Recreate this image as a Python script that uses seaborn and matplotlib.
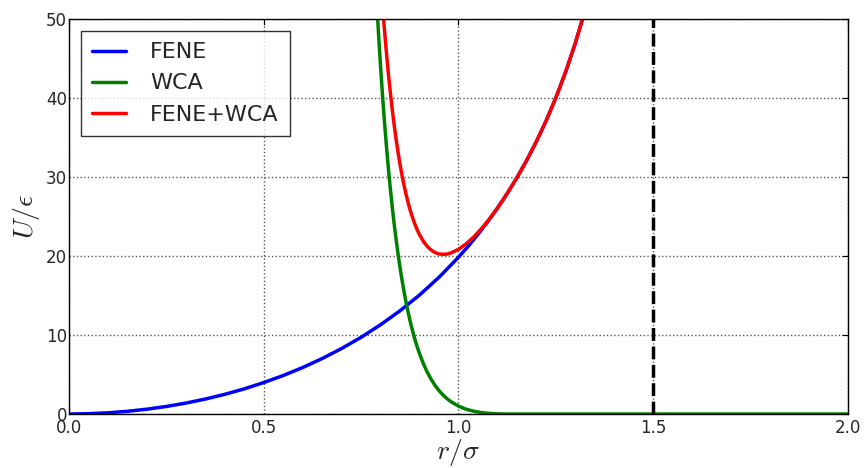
import matplotlib
matplotlib.use("Agg")
import matplotlib.pyplot as plt
import seaborn as sns

# values (r in units of sigma, U in units of epsilon)
r_fene = [0.0, 0.05, 0.1, 0.15, 0.2, 0.25, 0.3, 0.35, 0.4, 0.45, 0.5, 0.55,
          0.6, 0.65, 0.7, 0.75, 0.8, 0.85, 0.9, 0.95, 1.0, 1.025, 1.05,
          1.075, 1.1, 1.125, 1.15, 1.175, 1.2, 1.225, 1.25, 1.275, 1.3,
          1.32, 1.35]
u_fene = [0.0, 0.04, 0.15, 0.34, 0.61, 0.95, 1.38, 1.89, 2.49, 3.18, 3.98,
          4.87, 5.88, 7.02, 8.29, 9.71, 11.30, 13.07, 15.06, 17.30, 19.84,
          21.23, 22.73, 24.33, 26.05, 27.90, 29.91, 32.09, 34.48, 37.11,
          40.02, 43.27, 46.94, 50.25, 56.05]

r_wca = [0.78, 0.79, 0.795, 0.8, 0.805, 0.81, 0.815, 0.82, 0.825, 0.83,
         0.835, 0.84, 0.845, 0.85, 0.855, 0.86, 0.865, 0.87, 0.875, 0.88,
         0.885, 0.89, 0.895, 0.9, 0.91, 0.92, 0.93, 0.94, 0.95, 0.96, 0.97,
         0.98, 1.0, 1.02, 1.04, 1.06, 1.08, 1.1, 1.12, 1.5, 2.0]
u_wca = [62.1, 52.24, 47.91, 43.95, 40.32, 36.98, 33.93, 31.12, 28.55,
         26.19, 24.02, 22.03, 20.20, 18.52, 16.97, 15.55, 14.25, 13.05,
         11.95, 10.93, 10.00, 9.15, 8.36, 7.64, 6.36, 5.28, 4.37, 3.61,
         2.96, 2.42, 1.96, 1.58, 1.0, 0.60, 0.34, 0.17, 0.07, 0.02, 0.0,
         0.0, 0.0]

r_total = [0.78, 0.79, 0.8, 0.805, 0.81, 0.815, 0.82, 0.825, 0.83, 0.835,
           0.84, 0.845, 0.85, 0.855, 0.86, 0.865, 0.87, 0.875, 0.88, 0.885,
           0.89, 0.895, 0.9, 0.91, 0.92, 0.93, 0.94, 0.95, 0.96, 0.97, 0.98,
           1.0, 1.02, 1.04, 1.06, 1.08, 1.1, 1.12, 1.15, 1.175, 1.2, 1.225,
           1.25, 1.275, 1.3, 1.32, 1.35]
u_total = [72.7, 63.2, 55.25, 51.78, 48.62, 45.73, 43.10, 40.71, 38.53,
           36.54, 34.73, 33.08, 31.59, 30.23, 29.00, 27.89, 26.89, 25.98,
           25.17, 24.44, 23.80, 23.21, 22.70, 21.85, 21.21, 20.75, 20.44,
           20.26, 20.21, 20.24, 20.37, 20.84, 21.55, 22.45, 23.52, 24.73,
           26.06, 27.52, 29.91, 32.09, 34.48, 37.11, 40.02, 43.27, 46.94,
           50.25, 56.05]

r_max = 1.5

x_ticks = [0.0, 0.5, 1.0, 1.5, 2.0]
y_ticks = [0, 10, 20, 30, 40, 50]

sns.set_style("white")
plt.rcParams["mathtext.fontset"] = "cm"
plt.rcParams["font.family"] = ["DejaVu Sans"]

fig = plt.figure(figsize=(8.67, 4.68), dpi=100)
ax = fig.add_axes([0.0796, 0.1154, 0.8984, 0.844])

sns.lineplot(x=r_fene, y=u_fene, color="b", lw=2.5, label="FENE", ax=ax)
sns.lineplot(x=r_wca, y=u_wca, color="g", lw=2.5, label="WCA", ax=ax)
sns.lineplot(x=r_total, y=u_total, color="r", lw=2.5, label="FENE+WCA", ax=ax)
ax.axvline(r_max, color="k", ls="--", lw=2.5)

ax.set_xlim(0, 2)
ax.set_ylim(0, 50)
ax.set_xticks(x_ticks)
ax.set_yticks(y_ticks)
ax.set_xticklabels(["%.1f" % t for t in x_ticks])
ax.tick_params(direction="in", length=4, labelsize=12, color="k",
               top=True, right=True)
ax.tick_params(axis="x", pad=3.5)
ax.tick_params(axis="y", pad=1.5)
ax.grid(True, color="#555555", ls=":", lw=1)
for s in ax.spines.values():
    s.set_color("k")
    s.set_linewidth(1)

ax.set_xlabel(r"$r/\sigma$", fontsize=20, labelpad=0)
ax.set_ylabel(r"$U/\epsilon$", fontsize=20, labelpad=3)

leg = ax.legend(loc="upper left", fontsize=16, frameon=True, fancybox=False,
                borderaxespad=0.55, handlelength=1.5, handletextpad=1.1,
                labelspacing=0.5, borderpad=0.5)
leg.get_frame().set_edgecolor("k")
leg.get_frame().set_linewidth(1)

fig.savefig("out.png", dpi=100)
